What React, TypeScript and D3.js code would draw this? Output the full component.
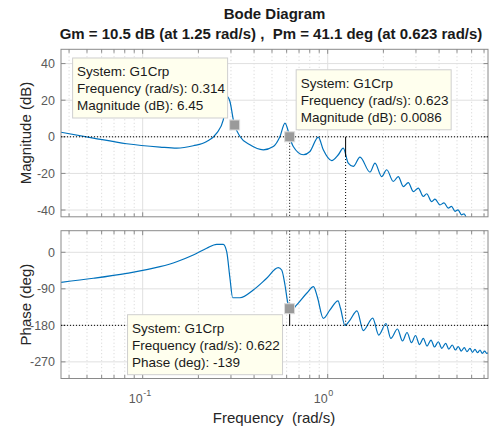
import React from 'react';
import * as d3 from 'd3';

const W = 490;
const H = 428;
const FONT = '"Liberation Sans", Arial, Helvetica, sans-serif';

// Magnitude response (rad/s, dB)
const magFreq = [0.0362, 0.0541, 0.0819, 0.124, 0.1527, 0.1877, 0.2218, 0.2512, 0.2727, 0.2856, 0.2963, 0.309, 0.314, 0.3357, 0.38, 0.4487, 0.508, 0.5524, 0.5877, 0.6124, 0.623, 0.6516, 0.738, 0.802, 0.8896, 0.9467, 1.051, 1.141, 1.214, 1.292, 1.375, 1.495, 1.693, 1.802, 1.958, 2.084, 2.263, 2.407, 2.563, 2.727, 2.902, 3.089, 3.287, 3.428, 3.649, 3.802, 4.046, 4.253, 4.486, 4.669, 4.877, 5.063, 5.288, 5.456, 5.662, 5.88];
const magDb = [2.5, -0.7, -3.8, -5.6, -6.2, -4.9, -2.6, 2.0, 9.3, 22.0, 19.3, 9.3, 6.45, 0.2, -4.4, -7.1, -5.3, 0.2, 7.5, 2.9, 0.0086, -5.3, -9.8, -8.0, -0.2, -7.1, -13.0, -9.8, -6.2, -14.4, -16.2, -11.1, -19.3, -14.4, -21.7, -18.0, -24.4, -21.7, -27.2, -25.0, -29.9, -28.0, -32.6, -31.1, -35.4, -34.0, -37.2, -36.1, -39.0, -38.0, -40.7, -39.9, -42.6, -42.1, -44.8, -45.9];

// Phase response (rad/s, deg)
const phaseFreq = [0.0362, 0.0541, 0.0819, 0.124, 0.1527, 0.1877, 0.2218, 0.2512, 0.2727, 0.2845, 0.2963, 0.3065, 0.3357, 0.396, 0.468, 0.5408, 0.564, 0.5877, 0.6077, 0.622, 0.637, 0.674, 0.77, 0.838, 0.8787, 0.9467, 1.029, 1.137, 1.173, 1.24, 1.32, 1.44, 1.557, 1.751, 1.889, 2.066, 2.193, 2.384, 2.537, 2.684, 2.838, 2.983, 3.135, 3.287, 3.442, 3.618, 3.779, 3.962, 4.139, 4.344, 4.515, 4.716, 4.895, 5.081, 5.275, 5.476, 5.662, 5.877, 6.062, 6.254, 6.452, 6.657, 6.851, 7.058, 7.237, 7.45];
const phaseDeg = [-74, -64, -51.8, -35.5, -23.2, -6.7, 9.9, 19.7, 19.7, 1.5, -64, -112, -112, -93, -64, -38, -43.6, -80.6, -123, -139, -143.5, -131.6, -101, -84.8, -109.4, -162.7, -142, -119.6, -138, -180.4, -167, -144.2, -192.8, -162, -203.9, -175.5, -212, -189, -218.6, -197.7, -222.8, -205, -227.3, -212, -231, -216.2, -233.4, -220.4, -236.6, -224.3, -238.4, -228.5, -240.8, -232.7, -243.3, -234.7, -245, -236.6, -246.5, -239.1, -247.5, -240.8, -249, -243.3, -249, -247];

const magTicks = [40, 20, 0, -20, -40];
const phaseTicks = [0, -90, -180, -270];
const xMajorTicks = [0.1, 1];
const xMajorExp = ['-1', '0'];
const xMinorTicks = [0.04, 0.05, 0.06, 0.07, 0.08, 0.09, 0.2, 0.3, 0.4, 0.5, 0.6, 0.7, 0.8, 0.9, 2, 3, 4, 5, 6, 7];

const titleLine1 = 'Bode Diagram';
const titleLine2 = 'Gm = 10.5 dB (at 1.25 rad/s) ,  Pm = 41.1 deg (at 0.623 rad/s)';
const xLabel = 'Frequency  (rad/s)';
const magLabel = 'Magnitude (dB)';
const phaseLabel = 'Phase (deg)';

const gmFreq = 1.25;
const gmDb = -10.5;
const pmFreq = 0.623;
const pmPhase = -138.9;

const tip1Lines = ['System: G1Crp', 'Frequency (rad/s): 0.314', 'Magnitude (dB): 6.45'];
const tip1Pt = [0.314, 6.45];
const tip2Lines = ['System: G1Crp', 'Frequency (rad/s): 0.623', 'Magnitude (dB): 0.0086'];
const tip2Pt = [0.623, 0.0086];
const tip3Lines = ['System: G1Crp', 'Frequency (rad/s): 0.622', 'Phase (deg): -139'];
const tip3Pt = [0.622, -139];

const X0 = 61, X1 = 488;
const xS = d3.scaleLog().domain([0.03618, 7.354]).range([X0, X1]);
const magS = d3.scaleLinear().domain([-43.7, 47.8]).range([216.8, 49.3]);
const phS = d3.scaleLinear().domain([-311, 53.2]).range([378.5, 230.7]);

const BLUE = '#0072BD';
const AXC = '#8a8a8a';
const TICKC = '#5a5a5a';

function Panel({ yS, yTicks, id, freqs, vals }: any) {
  const [yb, yt] = yS.range();
  const line = d3.line<number>()
    .x((_, i) => xS(freqs[i]))
    .y((d) => yS(d))
    .curve(d3.curveMonotoneX);
  return (
    <g>
      <defs>
        <clipPath id={id}>
          <rect x={X0} y={yt} width={X1 - X0} height={yb - yt} />
        </clipPath>
      </defs>
      <rect x={X0} y={yt} width={X1 - X0} height={yb - yt} fill="#fff" />
      {xMinorTicks.map((t) => (
        <line key={'mg' + t} x1={xS(t)} x2={xS(t)} y1={yt} y2={yb} stroke="#c8c8c8" strokeWidth={0.8} strokeDasharray="1,2.5" />
      ))}
      {xMajorTicks.map((t) => (
        <line key={'Mg' + t} x1={xS(t)} x2={xS(t)} y1={yt} y2={yb} stroke="#e0e0e0" strokeWidth={1} />
      ))}
      {yTicks.map((t: number) => (
        <line key={'yg' + t} x1={X0} x2={X1} y1={yS(t)} y2={yS(t)} stroke="#e0e0e0" strokeWidth={1} />
      ))}
      <path d={line(vals) || ''} fill="none" stroke={BLUE} strokeWidth={1.2} clipPath={`url(#${id})`} />
      <rect x={X0} y={yt} width={X1 - X0} height={yb - yt} fill="none" stroke={AXC} strokeWidth={1} />
      {xMinorTicks.map((t) => (
        <g key={'mt' + t}>
          <line x1={xS(t)} x2={xS(t)} y1={yt} y2={yt + 3.5} stroke={AXC} />
          <line x1={xS(t)} x2={xS(t)} y1={yb} y2={yb - 3.5} stroke={AXC} />
        </g>
      ))}
      {xMajorTicks.map((t) => (
        <g key={'Mt' + t}>
          <line x1={xS(t)} x2={xS(t)} y1={yt} y2={yt + 4.5} stroke={AXC} />
          <line x1={xS(t)} x2={xS(t)} y1={yb} y2={yb - 4.5} stroke={AXC} />
        </g>
      ))}
      {yTicks.map((t: number) => (
        <g key={'yt' + t}>
          <line x1={X0} x2={X0 + 4.5} y1={yS(t)} y2={yS(t)} stroke={AXC} />
          <line x1={X1} x2={X1 - 4.5} y1={yS(t)} y2={yS(t)} stroke={AXC} />
          <text x={55} y={yS(t)} dy="0.36em" textAnchor="end" fontSize={12.5} fill={TICKC} fontFamily={FONT}>{t}</text>
        </g>
      ))}
    </g>
  );
}

function Tip({ lines, px, py, dx, dy }: any) {
  const w = 155, h = 60;
  const x = dx < 0 ? px + dx - w : px + dx;
  const y = dy < 0 ? py + dy - h : py + dy;
  return (
    <g>
      <rect x={x} y={y} width={w} height={h} fill="#ffffee" stroke="#cfcfcf" strokeWidth={1} />
      {lines.map((s: string, i: number) => (
        <text key={i} x={x + 4.5} y={y + 18 + i * 17} fontSize={13.5} fill="#1a1a1a" fontFamily={FONT}>{s}</text>
      ))}
    </g>
  );
}

function Marker({ cx, cy }: any) {
  return <rect x={cx - 5} y={cy - 5} width={10} height={10} fill="#9a9a9a" stroke="#dcdcdc" strokeWidth={1} />;
}

export default function App() {
  const magTop = magS.range()[1], magBot = magS.range()[0];
  const phTop = phS.range()[1], phBot = phS.range()[0];
  const xPm = xS(pmFreq), xGm = xS(gmFreq);
  return (
    <svg width={W} height={H} style={{ position: 'absolute', left: 0, top: 0, background: '#fff' }} fontFamily={FONT}>
      <rect width={W} height={H} fill="#fff" />
      <text x={274.5} y={19} textAnchor="middle" fontSize={15} fontWeight="bold" fill="#1a1a1a">{titleLine1}</text>
      <text x={271} y={39} textAnchor="middle" fontSize={15} fontWeight="bold" fill="#1a1a1a" style={{ whiteSpace: 'pre' }}>{titleLine2}</text>

      <Panel yS={magS} yTicks={magTicks} id="clipMag" freqs={magFreq} vals={magDb} />
      <Panel yS={phS} yTicks={phaseTicks} id="clipPh" freqs={phaseFreq} vals={phaseDeg} />

      {/* margin indicator lines: magnitude */}
      <line x1={X0} x2={X1} y1={magS(0)} y2={magS(0)} stroke="#000" strokeWidth={1} strokeDasharray="1,2" />
      <line x1={xPm} x2={xPm} y1={magS(0)} y2={magBot} stroke="#000" strokeWidth={1} strokeDasharray="1,2" />
      <line x1={xGm} x2={xGm} y1={magS(0)} y2={magS(gmDb)} stroke="#000" strokeWidth={1} />
      <line x1={xGm} x2={xGm} y1={magS(gmDb)} y2={magBot} stroke="#000" strokeWidth={1} strokeDasharray="1,2" />
      {/* phase */}
      <line x1={X0} x2={X1} y1={phS(-180)} y2={phS(-180)} stroke="#000" strokeWidth={1} strokeDasharray="1,2" />
      <line x1={xPm} x2={xPm} y1={phTop} y2={phS(pmPhase)} stroke="#000" strokeWidth={1} strokeDasharray="1,2" />
      <line x1={xPm} x2={xPm} y1={phS(pmPhase)} y2={phS(-180)} stroke="#000" strokeWidth={1} />
      <line x1={xGm} x2={xGm} y1={phTop} y2={phS(-180)} stroke="#000" strokeWidth={1} strokeDasharray="1,2" />

      {/* x tick labels */}
      {xMajorTicks.map((t, i) => (
        <g key={'xl' + t}>
          <text x={xS(t)} y={403} textAnchor="end" fontSize={12.5} fill={TICKC}>10</text>
          <text x={xS(t) + 0.5} y={396} textAnchor="start" fontSize={9} fill={TICKC}>{xMajorExp[i]}</text>
        </g>
      ))}

      <text x={274} y={422.5} textAnchor="middle" fontSize={15} fill="#262626" style={{ whiteSpace: 'pre' }}>{xLabel}</text>
      <text transform={`translate(31,${(magTop + magBot) / 2}) rotate(-90)`} textAnchor="middle" fontSize={15} fill="#262626">{magLabel}</text>
      <text transform={`translate(31,${(phTop + phBot) / 2}) rotate(-90)`} textAnchor="middle" fontSize={15} fill="#262626">{phaseLabel}</text>

      {/* data tips */}
      <Tip lines={tip1Lines} px={xS(tip1Pt[0])} py={magS(tip1Pt[1])} dx={-7} dy={-7} />
      <Tip lines={tip2Lines} px={xS(tip2Pt[0])} py={magS(tip2Pt[1])} dx={6.5} dy={-7} />
      <Tip lines={tip3Lines} px={xS(tip3Pt[0])} py={phS(tip3Pt[1])} dx={-7} dy={6} />
      <Marker cx={xS(tip1Pt[0])} cy={magS(tip1Pt[1])} />
      <Marker cx={xS(tip2Pt[0])} cy={magS(tip2Pt[1])} />
      <Marker cx={xS(tip3Pt[0])} cy={phS(tip3Pt[1])} />
    </svg>
  );
}
